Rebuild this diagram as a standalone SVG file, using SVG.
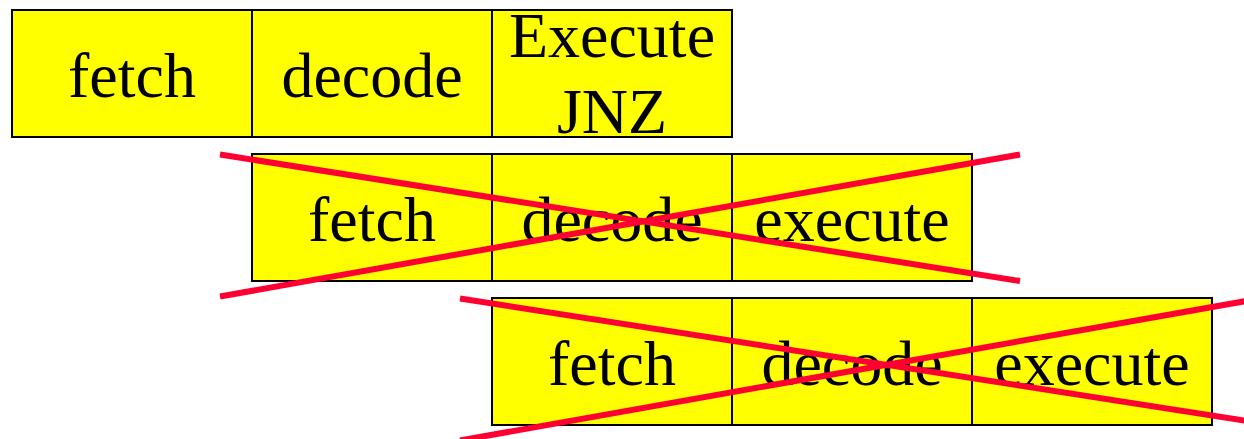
<svg xmlns="http://www.w3.org/2000/svg" width="1244" height="439" viewBox="0 0 1244 439">
<style>
.b{fill:#ffff00;stroke:#000;stroke-width:2}
.t{font-family:"Liberation Serif","Times New Roman",serif;font-size:64px;fill:#000;text-anchor:middle}
.x{stroke:#ff0033;stroke-width:6;stroke-linecap:butt;fill:none}
</style>
<rect width="1244" height="439" fill="#fff"/>
<g id="r1-fetch"><rect class="b" x="12" y="10" width="240" height="127"/><text class="t" x="132" y="97">fetch</text></g>
<g id="r1-decode"><rect class="b" x="252" y="10" width="240" height="127"/><text class="t" x="372" y="97">decode</text></g>
<g id="r1-exec"><rect class="b" x="492" y="10" width="240" height="127"/><text class="t" x="612" y="57">Execute</text><text class="t" x="612" y="133">JNZ</text></g>
<g id="r2-fetch"><rect class="b" x="252" y="154" width="240" height="127"/><text class="t" x="372" y="241">fetch</text></g>
<g id="r2-decode"><rect class="b" x="492" y="154" width="240" height="127"/><text class="t" x="612" y="241">decode</text></g>
<g id="r2-exec"><rect class="b" x="732" y="154" width="240" height="127"/><text class="t" x="852" y="241">execute</text></g>
<g id="r3-fetch"><rect class="b" x="492" y="298" width="240" height="127"/><text class="t" x="612" y="385">fetch</text></g>
<g id="r3-decode"><rect class="b" x="732" y="298" width="240" height="127"/><text class="t" x="852" y="385">decode</text></g>
<g id="r3-exec"><rect class="b" x="972" y="298" width="240" height="127"/><text class="t" x="1092" y="385">execute</text></g>
<g id="connectors">
<line class="x" x1="220" y1="154.5" x2="1020" y2="281"/>
<line class="x" x1="220" y1="296.5" x2="1020" y2="154.5"/>
<line class="x" x1="460" y1="298.5" x2="1260" y2="423"/>
<line class="x" x1="460" y1="440.5" x2="1260" y2="298.5"/>
</g>
</svg>
